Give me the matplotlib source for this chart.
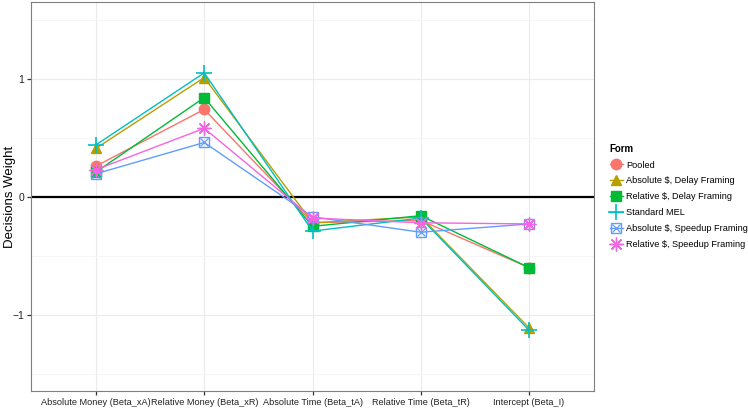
import numpy as np
import matplotlib.pyplot as plt

plt.rcParams['font.family'] = ['Liberation Sans', 'DejaVu Sans']

categories = ['Absolute Money (Beta_xA)', 'Relative Money (Beta_xR)',
              'Absolute Time (Beta_tA)', 'Relative Time (Beta_tR)',
              'Intercept (Beta_I)']

pooled = [0.26, 0.74, -0.22, -0.20, -0.60]
abs_delay = [0.41, 1.01, -0.22, -0.17, -1.11]
rel_delay = [0.21, 0.84, -0.25, -0.16, -0.60]
standard_mel = [0.44, 1.05, -0.29, -0.18, -1.13]
abs_speedup = [0.195, 0.46, -0.17, -0.30, -0.23]
rel_speedup = [0.23, 0.58, -0.18, -0.22, -0.23]

series = [
    ('Pooled', pooled, '#F8766D', 'o'),
    ('Absolute $, Delay Framing', abs_delay, '#B79F00', '^'),
    ('Relative $, Delay Framing', rel_delay, '#00BA38', 's'),
    ('Standard MEL', standard_mel, '#00BFC4', '+'),
    ('Absolute $, Speedup Framing', abs_speedup, '#619CFF', 'boxx'),
    ('Relative $, Speedup Framing', rel_speedup, '#F564E3', (8, 2, 0)),
]

fig = plt.figure(figsize=(7.48, 4.12), dpi=100)
ax = fig.add_axes([31 / 748, 21 / 412, 563 / 748, 389 / 412])

x = np.arange(1, len(categories) + 1)
handles = []
for name, vals, col, mk in series:
    if mk == 'boxx':
        ln, = ax.plot(x, vals, color=col, lw=1.0, marker='s', ms=7,
                      mfc='none', mec=col, mew=1.0, zorder=3)
        mx, = ax.plot(x, vals, ls='none', marker='x', ms=6, color=col,
                      mew=0.9, zorder=3)
        handles.append((ln, mx))
    elif mk == '+':
        ln, = ax.plot(x, vals, color=col, lw=1.0, marker='+', ms=11,
                      mew=1.2, zorder=3)
        handles.append(ln)
    elif mk == (8, 2, 0):
        ln, = ax.plot(x, vals, color=col, lw=1.0, marker=mk, ms=10,
                      mew=1.0, zorder=3)
        handles.append(ln)
    else:
        ln, = ax.plot(x, vals, color=col, lw=1.0, marker=mk, ms=7.5,
                      mec=col, zorder=3)
        handles.append(ln)

ax.axhline(0, color='black', lw=1.6, zorder=2)

ax.set_xlim(0.4, 5.6)
ax.set_ylim(-1.645, 1.65)
ax.set_xticks(x)
ax.set_xticklabels(categories)
ax.set_yticks([-1, 0, 1])
ax.set_yticklabels(['\u22121', '0', '1'])
ax.set_yticks([-1.5, -0.5, 0.5, 1.5], minor=True)

ax.grid(True, which='major', color='#ebebeb', lw=0.8)
ax.grid(True, which='minor', axis='y', color='#f5f5f5', lw=0.6)
ax.set_axisbelow(True)
for s in ax.spines.values():
    s.set_color('#7f7f7f')
    s.set_linewidth(0.8)
ax.tick_params(axis='both', which='major', length=3, width=0.9,
               color='#333333', labelsize=6.6, labelcolor='#222222', pad=2)
ax.tick_params(axis='y', labelsize=7.5)
ax.tick_params(which='minor', length=0)

fig.text(10 / 748, 1 - 197 / 412, 'Decisions Weight', rotation=90,
         va='center', ha='center', fontsize=9.5)

leg = fig.legend(handles, [s[0] for s in series], title='Form',
                 loc='upper left', bbox_to_anchor=(606 / 748, 1 - 140 / 412),
                 frameon=False, fontsize=6.6, title_fontsize=7,
                 handlelength=1.4, handletextpad=0.4, labelspacing=0.75,
                 borderaxespad=0)
leg.get_title().set_fontweight('bold')
leg._legend_box.align = 'left'

fig.savefig('out.png', dpi=100)
